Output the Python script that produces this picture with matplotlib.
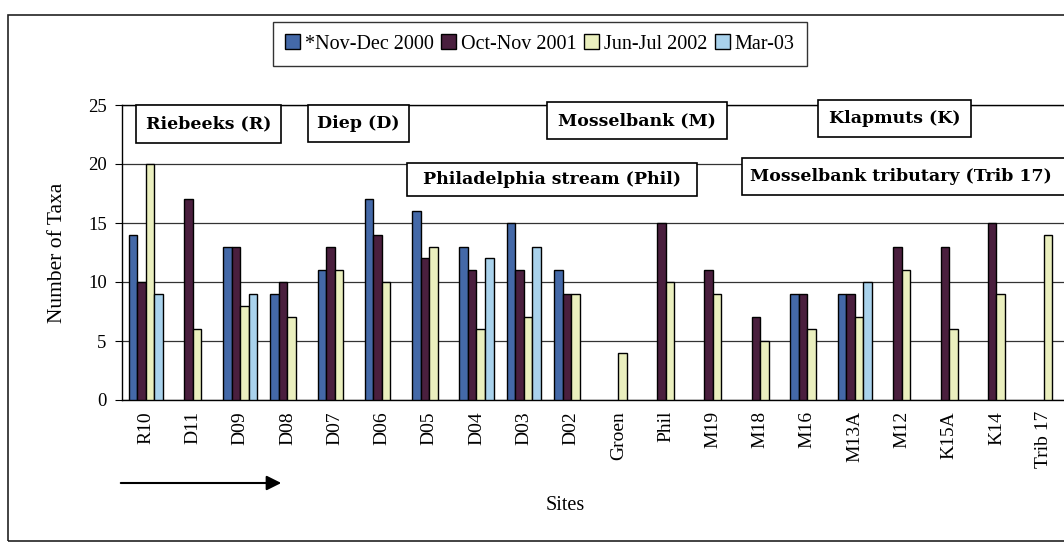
import numpy as np
import matplotlib
matplotlib.use("Agg")
from matplotlib import pyplot as plt
from matplotlib.patches import Rectangle

nan = np.nan

sites = ["R10", "D11", "D09", "D08", "D07", "D06", "D05", "D04", "D03", "D02",
         "Groen", "Phil", "M19", "M18", "M16", "M13A", "M12", "K15A", "K14", "Trib 17"]

nov_dec_2000 = [14, nan, 13, 9, 11, 17, 16, 13, 15, 11, nan, nan, nan, nan, 9, 9, nan, nan, nan, nan]
oct_nov_2001 = [10, 17, 13, 10, 13, 14, 12, 11, 11, 9, nan, 15, 11, 7, 9, 9, 13, 13, 15, nan]
jun_jul_2002 = [20, 6, 8, 7, 11, 10, 13, 6, 7, 9, 4, 10, 9, 5, 6, 7, 11, 6, 9, 14]
mar_03 = [9, nan, 9, nan, nan, nan, nan, 12, 13, nan, nan, nan, nan, nan, nan, 10, nan, nan, nan, nan]

series_names = ["*Nov-Dec 2000", "Oct-Nov 2001", "Jun-Jul 2002", "Mar-03"]
colors = ["#4469a8", "#4a1f3e", "#eaefbe", "#a9d2ec"]

# river labels shown in boxes on the chart
river_labels = ["Riebeeks (R)", "Diep (D)", "Philadelphia stream (Phil)",
                "Mosselbank (M)", "Klapmuts (K)", "Mosselbank tributary (Trib 17)"]

W, H = 1064, 542
plt.rcParams['font.family'] = ['Liberation Serif', 'DejaVu Serif']

fig = plt.figure(figsize=(W/100, H/100), dpi=100)
fig.patch.set_facecolor("white")

def px(x0, y0, x1, y1):
  # pixel box (from top-left) -> figure fraction rect
  return [x0/W, 1 - y1/H, (x1 - x0)/W, (y1 - y0)/H]

ax = fig.add_axes(px(122, 105, 1064, 400))

x = np.arange(len(sites))
bw = 0.18
all_series = [nov_dec_2000, oct_nov_2001, jun_jul_2002, mar_03]
for i, (vals, name, c) in enumerate(zip(all_series, series_names, colors)):
  ax.bar(x + (i - 1.5)*bw, vals, bw, color=c, edgecolor="black", linewidth=1.0,
         label=name, zorder=3)

ax.set_xlim(-0.5, 19.43)
ax.set_ylim(0, 25)
ax.set_yticks([0, 5, 10, 15, 20, 25])
ax.yaxis.grid(True, color="#333333", linewidth=0.9)
ax.set_axisbelow(True)
ax.set_xticks(x)
ax.set_xticklabels(sites, rotation=90, fontsize=14)
ax.tick_params(axis="x", length=0, pad=8)
ax.tick_params(axis="y", labelsize=13.5, length=5, direction="out", pad=6)
ax.spines["right"].set_visible(False)
for s in ["left", "bottom", "top"]:
  ax.spines[s].set_linewidth(1.0)

fig.text(57/W, 1 - 253/H, "Number of Taxa", rotation=90, fontsize=15.5,
         ha="center", va="center")
fig.text(565/W, 1 - 506/H, "Sites", fontsize=14.5, ha="center", va="center")

# arrow under the tick labels
ax.annotate("", xy=(284, H - 483), xytext=(118, H - 483), xycoords="figure pixels",
            arrowprops=dict(arrowstyle="-|>", color="black", lw=1.5, mutation_scale=22))

# boxed river names
boxes = [(136, 105, 281, 143), (308, 105, 409, 142), (407, 163, 697, 196),
         (547, 102, 727, 139), (818, 100, 971, 137), (742, 158, 1080, 195)]
for lab, (x0, y0, x1, y1) in zip(river_labels, boxes):
  fig.patches.append(Rectangle(px(x0, y0, x1, y1)[:2], (x1 - x0)/W, (y1 - y0)/H,
                               transform=fig.transFigure, facecolor="white",
                               edgecolor="black", linewidth=1.2, zorder=5))
  tx = (x0 + x1)/2 if x1 < W else x0 + 8
  fig.text(tx/W, 1 - (y0 + y1)/2/H, lab, fontsize=12.5, fontweight="bold",
           family="DejaVu Serif", ha="center" if x1 < W else "left", va="center",
           zorder=6)

# outer chart border
fig.patches.append(Rectangle((8/W, 1 - 541/H), 1.2, (541 - 15)/H, transform=fig.transFigure,
                             facecolor="none", edgecolor="#222222", linewidth=1.2, zorder=1))

leg = fig.legend(loc="center", bbox_to_anchor=(540/W, 1 - 44/H), ncol=4, fontsize=14.5,
                 frameon=True, fancybox=False, edgecolor="black", handlelength=0.75,
                 handleheight=0.75, handletextpad=0.25, columnspacing=0.35,
                 borderpad=0.6, borderaxespad=0)
leg.get_frame().set_linewidth(1.0)

fig.savefig("out.png", dpi=100)
